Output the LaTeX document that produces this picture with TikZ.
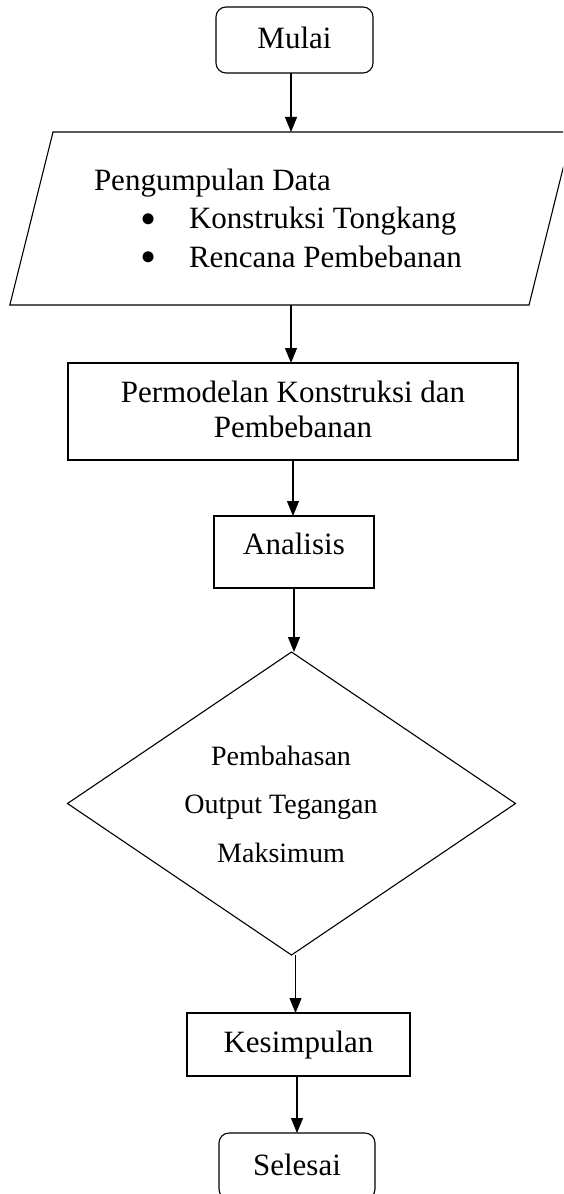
\documentclass[tikz,border=0pt]{standalone}
\usepackage{fontspec}
\setmainfont{Liberation Serif}
\usetikzlibrary{shapes.geometric,arrows.meta}
\newcommand{\bigbul}{\makebox[95pt][l]{\hspace{46pt}\smash{\fontsize{46}{0}\selectfont\raisebox{-5.5pt}{\textbullet}}}}
\begin{document}
\begin{tikzpicture}[x=1pt,y=-1pt,
  line width=1.1pt,
  every node/.style={inner sep=0pt, outer sep=0pt},
  box/.style={draw, rectangle, font=\fontsize{31}{35}\selectfont},
  term/.style={box, rounded corners=10pt},
  arr/.style={-{Triangle[width=12pt,length=15pt]}},
]
\useasboundingbox (0,0) rectangle (563,1194);
\clip (0,0) rectangle (563,1194);
\node[term, minimum width=157pt, minimum height=66pt, text height=21pt, text depth=5pt] (mulai) at (294.5,40) {Mulai};
\node[draw, trapezium, inner sep=2pt, trapezium left angle=76, trapezium right angle=104] (data) at (291,218.5) {\phantom{\rule{472pt}{169pt}}};
\node[anchor=west, align=left, font=\fontsize{31}{38.5}\selectfont] (datatext) at (94,218) {Pengumpulan Data\\\bigbul Konstruksi Tongkang\\\bigbul Rencana Pembebanan};
\node[box, minimum width=450pt, minimum height=97pt, align=center] (model) at (293,411.5) {Permodelan Konstruksi dan\\Pembebanan\rule[-5pt]{0pt}{5pt}};
\node[box, minimum width=160pt, minimum height=72pt, text height=21pt, text depth=17pt] (ana) at (294,552) {Analisis};
\node[draw, diamond, inner sep=2pt, minimum width=448pt, minimum height=303pt] (dec) at (291.5,803.5) {};
\node[align=center, font=\fontsize{28}{48.5}\selectfont] (dectext) at (281,804) {Pembahasan\\Output Tegangan\\Maksimum};
\node[box, minimum width=223pt, minimum height=63pt, text height=21pt, text depth=6pt] (kes) at (298.5,1044.5) {Kesimpulan};
\node[term, minimum width=156pt, minimum height=66pt, text height=21pt, text depth=3pt] (selesai) at (297,1166) {Selesai};
\coordinate (decout) at ([xshift=4pt]dec.south);
\draw[arr] (data.north |- mulai.south) -- (data.north);
\draw[arr] (data.south) -- (data.south |- model.north);
\draw[arr] (model.south) -- (model.south |- ana.north);
\draw[arr] (ana.south) -- (ana.south |- dec.north);
\draw[arr] (decout) -- (decout |- kes.north);
\draw[arr] (selesai.north |- kes.south) -- (selesai.north);
\end{tikzpicture}
\end{document}
